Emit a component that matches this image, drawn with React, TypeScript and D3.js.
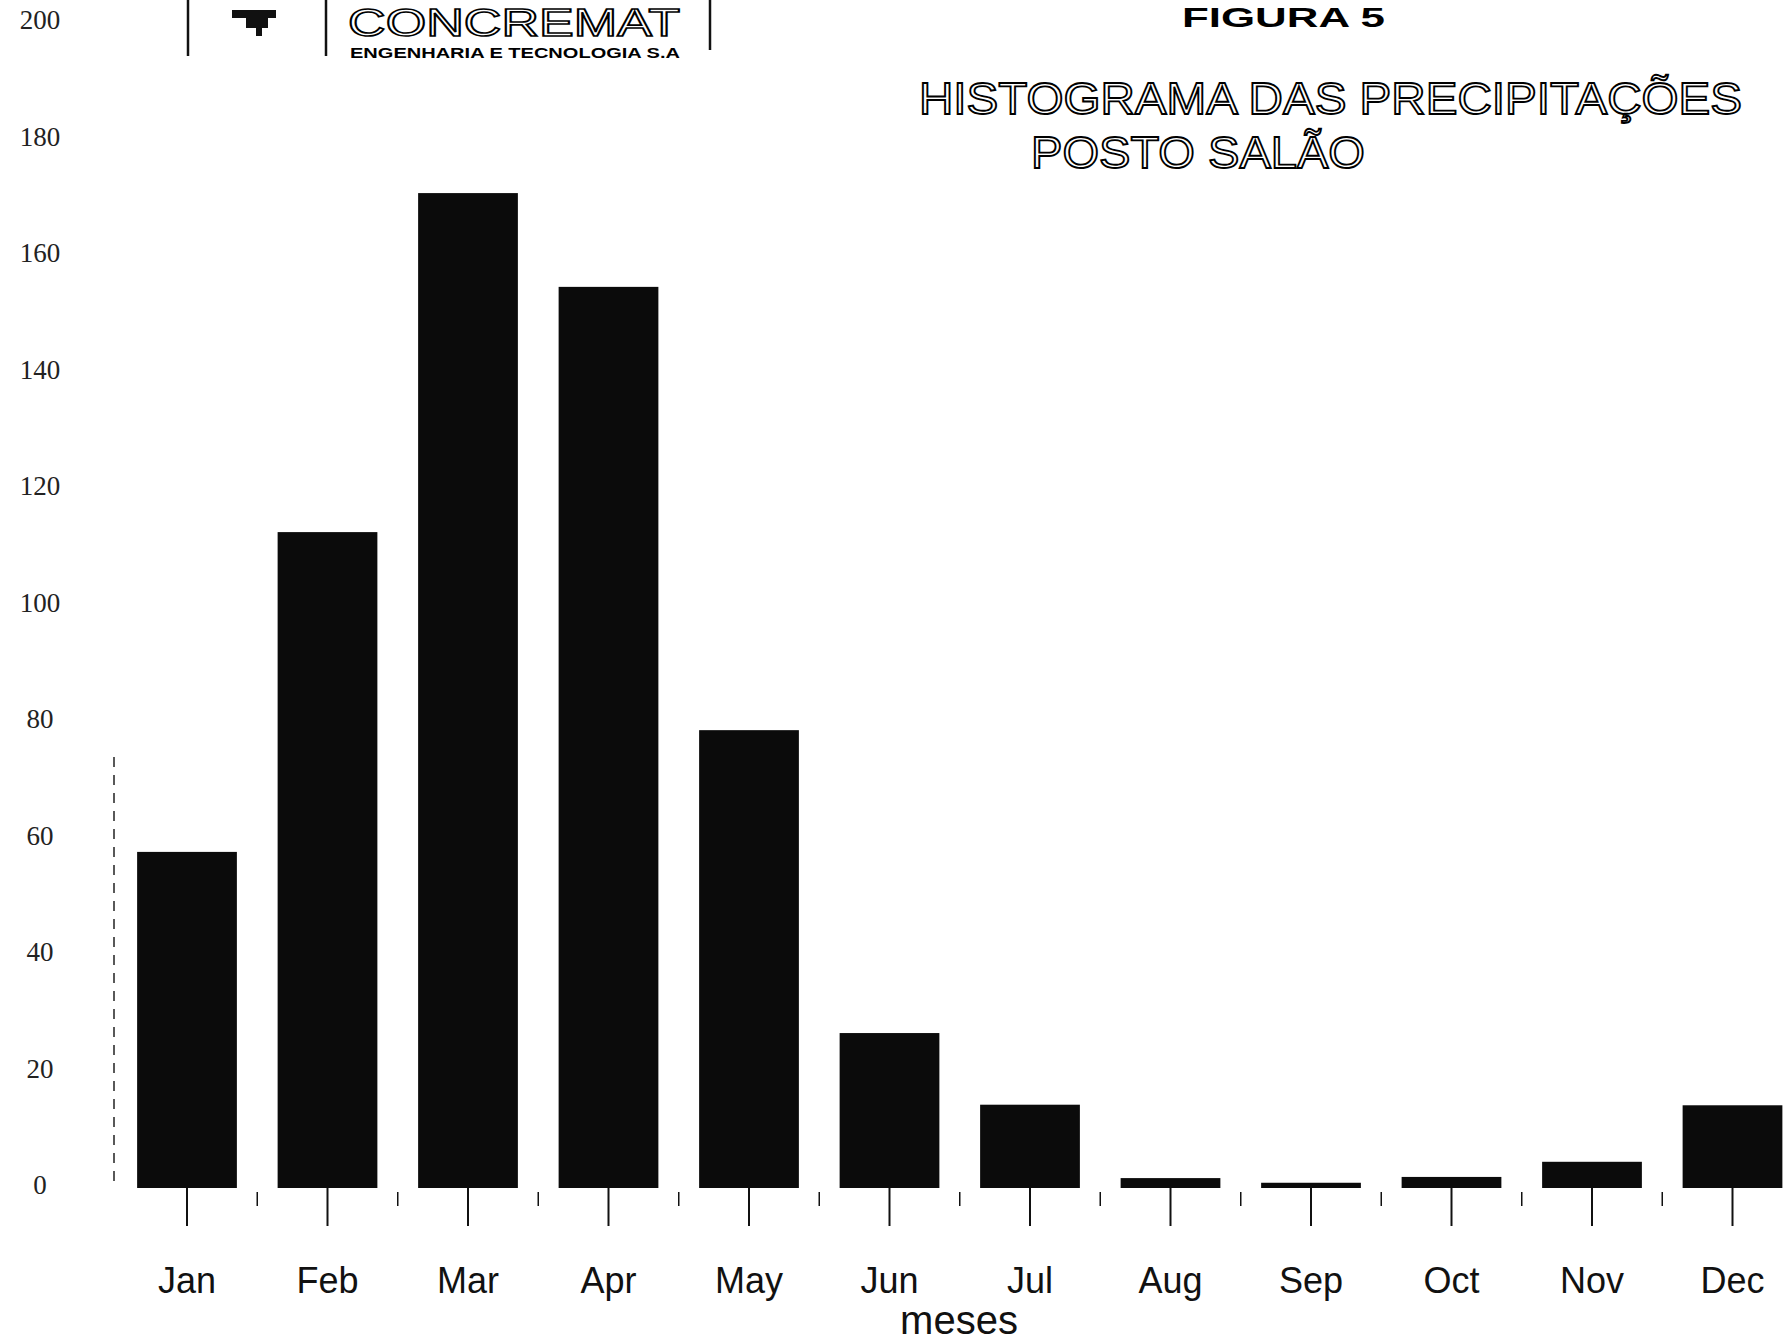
import { useLayoutEffect } from 'react';
import * as d3 from 'd3';

// monthly precipitation, Posto Salão (mm)
const months = ['Jan', 'Feb', 'Mar', 'Apr', 'May', 'Jun', 'Jul', 'Aug', 'Sep', 'Oct', 'Nov', 'Dec'];
const rainfall = [57.7, 112.6, 170.8, 154.7, 78.6, 26.6, 14.3, 1.7, 0.9, 1.9, 4.5, 14.2];
const yTicks = [0, 20, 40, 60, 80, 100, 120, 140, 160, 180, 200];

const width = 1791;
const height = 1343;

export default function App() {
  useLayoutEffect(() => {
    document.body.style.margin = '0';
  }, []);

  const x = d3
    .scaleBand<string>()
    .domain(months)
    .range([116.75, 116.75 + 140.5 * months.length])
    .paddingInner(0.29)
    .paddingOuter(0.145);

  const y = d3.scaleLinear().domain([0, 200]).range([1188, 23]);

  const baseline = y(0);
  const boundaries = months.slice(1).map((m) => (x(m) as number) - (x.step() * x.paddingInner()) / 2);

  return (
    <svg width={width} height={height} style={{ display: 'block', background: '#fff' }}>
      {/* logo strip */}
      <g stroke="#111" strokeWidth={2.5}>
        <line x1={188} y1={0} x2={188} y2={56} />
        <line x1={326} y1={0} x2={326} y2={56} />
        <line x1={710} y1={0} x2={710} y2={50} />
      </g>
      <g fill="#111">
        <rect x={232} y={10} width={44} height={8} />
        <rect x={246} y={18} width={22} height={10} />
        <rect x={256} y={28} width={6} height={8} />
      </g>
      <text
        x={348}
        y={36}
        fontFamily="Liberation Sans, Arial, sans-serif"
        fontSize={38}
        fill="#fff"
        stroke="#000"
        strokeWidth={1.6}
        textLength={332}
        lengthAdjust="spacingAndGlyphs"
      >
        CONCREMAT
      </text>
      <text
        x={350}
        y={58}
        fontFamily="Liberation Sans, Arial, sans-serif"
        fontSize={14}
        fontWeight="bold"
        textLength={330}
        lengthAdjust="spacingAndGlyphs"
      >
        ENGENHARIA E TECNOLOGIA S.A
      </text>

      {/* titles */}
      <text
        x={1182}
        y={27}
        fontFamily="Liberation Sans Narrow, Arial Narrow, Liberation Sans, sans-serif"
        fontSize={27}
        fontWeight="bold"
        textLength={203}
        lengthAdjust="spacingAndGlyphs"
      >
        FIGURA  5
      </text>
      <text
        x={919}
        y={114}
        fontFamily="Liberation Sans, Arial, sans-serif"
        fontSize={45}
        fill="#fff"
        stroke="#000"
        strokeWidth={1.8}
        textLength={823}
        lengthAdjust="spacingAndGlyphs"
      >
        HISTOGRAMA DAS PRECIPITAÇÕES
      </text>
      <text
        x={1031}
        y={168}
        fontFamily="Liberation Sans, Arial, sans-serif"
        fontSize={45}
        fill="#fff"
        stroke="#000"
        strokeWidth={1.8}
        textLength={334}
        lengthAdjust="spacingAndGlyphs"
      >
        POSTO SALÃO
      </text>

      {/* y axis */}
      <line
        x1={114}
        x2={114}
        y1={y(74)}
        y2={baseline}
        stroke="#222"
        strokeWidth={1.5}
        strokeDasharray="10 8"
      />
      {yTicks.map((t) => (
        <text
          key={t}
          x={40}
          y={y(t)}
          textAnchor="middle"
          dominantBaseline="middle"
          fontFamily="Liberation Serif, Times New Roman, serif"
          fontSize={27}
          fill="#222"
        >
          {t}
        </text>
      ))}

      {/* bars */}
      {months.map((m, i) => (
        <rect
          key={m}
          x={x(m)}
          y={y(rainfall[i])}
          width={x.bandwidth()}
          height={baseline - y(rainfall[i])}
          fill="#0b0b0b"
        />
      ))}

      {/* x axis ticks */}
      <g stroke="#111" strokeWidth={2}>
        {months.map((m) => {
          const cx = (x(m) as number) + x.bandwidth() / 2;
          return <line key={m} x1={cx} x2={cx} y1={baseline} y2={baseline + 38} />;
        })}
        {boundaries.map((bx, i) => (
          <line key={i} x1={bx} x2={bx} y1={baseline + 4} y2={baseline + 18} strokeWidth={1.5} />
        ))}
      </g>
      {months.map((m) => (
        <text
          key={m}
          x={(x(m) as number) + x.bandwidth() / 2}
          y={1293}
          textAnchor="middle"
          fontFamily="Liberation Sans, Arial, sans-serif"
          fontSize={36}
          fill="#111"
        >
          {m}
        </text>
      ))}
      <text
        x={959}
        y={1334}
        textAnchor="middle"
        fontFamily="Liberation Sans, Arial, sans-serif"
        fontSize={40}
        fill="#111"
      >
        meses
      </text>
    </svg>
  );
}
